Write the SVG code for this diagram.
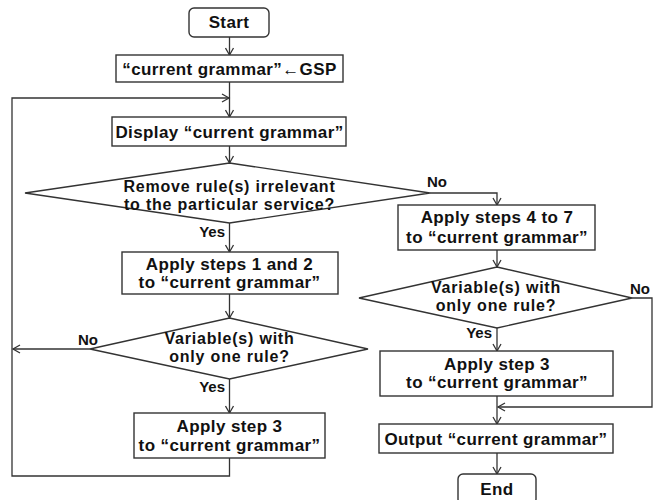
<svg xmlns="http://www.w3.org/2000/svg" width="654" height="500" viewBox="0 0 654 500">
<defs>
<marker id="arr" markerWidth="10" markerHeight="10" refX="8" refY="5" orient="auto" markerUnits="userSpaceOnUse">
<path d="M1,1 L8,5 L1,9" fill="none" stroke="#333" stroke-width="1.3"/>
</marker>
<style>
.box{fill:#fff;stroke:#333;stroke-width:1.4}
.t{font-family:"Liberation Sans",Arial,sans-serif;font-weight:bold;font-size:17px;fill:#111;text-anchor:middle;letter-spacing:0.4px}
.d{font-size:16px;letter-spacing:0.8px}
.l{font-family:"Liberation Sans",Arial,sans-serif;font-weight:bold;font-size:15px;fill:#111}
.c{fill:none;stroke:#333;stroke-width:1.3}
</style>
</defs>
<rect width="654" height="500" fill="#fff"/>
<g id="connectors">
<path class="c" d="M229.5,37 V55" marker-end="url(#arr)"/>
<path class="c" d="M229.5,82 V117" marker-end="url(#arr)"/>
<path class="c" d="M229.5,458 V476 H12 V98 H229" marker-end="url(#arr)"/>
<path class="c" d="M229.5,146 V163" marker-end="url(#arr)"/>
<path class="c" d="M229.5,223 V252" marker-end="url(#arr)"/>
<path class="c" d="M430,193 H497 V205" marker-end="url(#arr)"/>
<path class="c" d="M497,250 V267" marker-end="url(#arr)"/>
<path class="c" d="M497,328 V351" marker-end="url(#arr)"/>
<path class="c" d="M632,298 H652 V407 H498" marker-end="url(#arr)"/>
<path class="c" d="M497,396 V424" marker-end="url(#arr)"/>
<path class="c" d="M497,453 V474" marker-end="url(#arr)"/>
<path class="c" d="M229.5,294 V318" marker-end="url(#arr)"/>
<path class="c" d="M90,349 H13" marker-end="url(#arr)"/>
<path class="c" d="M229.5,379 V413" marker-end="url(#arr)"/>
<text class="l" x="225" y="237" text-anchor="end">Yes</text>
<text class="l" x="427" y="187">No</text>
<text class="l" x="630" y="294">No</text>
<text class="l" x="492" y="338" text-anchor="end">Yes</text>
<text class="l" x="78" y="345">No</text>
<text class="l" x="225" y="392" text-anchor="end">Yes</text>
</g>
<g id="start">
<rect class="box" x="189" y="8" width="80" height="29" rx="5"/>
<text class="t" x="229" y="28">Start</text>
</g>
<g id="init">
<rect class="box" x="116" y="55" width="227" height="27"/>
<text class="t" x="229.5" y="75">“current grammar”←GSP</text>
</g>
<g id="display">
<rect class="box" x="112" y="117" width="234" height="29"/>
<text class="t" x="229.5" y="138">Display “current grammar”</text>
</g>
<g id="remove">
<polygon class="box" points="229.5,163 430,193 229.5,223 25,193"/>
<text class="t d" x="229.5" y="192">Remove rule(s) irrelevant</text>
<text class="t d" x="229.5" y="210">to the particular service?</text>
</g>
<g id="steps12">
<rect class="box" x="122" y="252" width="216" height="42"/>
<text class="t" x="229.5" y="270">Apply steps 1 and 2</text>
<text class="t" x="229.5" y="288">to “current grammar”</text>
</g>
<g id="var-left">
<polygon class="box" points="229.5,318 368,349 229.5,379 90,349"/>
<text class="t d" x="229.5" y="344">Variable(s) with</text>
<text class="t d" x="229.5" y="362">only one rule?</text>
</g>
<g id="step3-left">
<rect class="box" x="134" y="413" width="191" height="45"/>
<text class="t" x="229.5" y="432">Apply step 3</text>
<text class="t" x="229.5" y="451">to “current grammar”</text>
</g>
<g id="steps47">
<rect class="box" x="398" y="205" width="197" height="45"/>
<text class="t" x="497" y="223">Apply steps 4 to 7</text>
<text class="t" x="497" y="243">to “current grammar”</text>
</g>
<g id="var-right">
<polygon class="box" points="497,267 632,298 497,328 359,298"/>
<text class="t d" x="496" y="293">Variable(s) with</text>
<text class="t d" x="496" y="311">only one rule?</text>
</g>
<g id="step3-right">
<rect class="box" x="380" y="351" width="233" height="45"/>
<text class="t" x="497" y="370">Apply step 3</text>
<text class="t" x="497" y="388">to “current grammar”</text>
</g>
<g id="output">
<rect class="box" x="379" y="424" width="234" height="29"/>
<text class="t" x="496" y="445">Output “current grammar”</text>
</g>
<g id="end">
<rect class="box" x="458" y="474" width="78" height="30" rx="5"/>
<text class="t" x="497" y="495">End</text>
</g>
</svg>
